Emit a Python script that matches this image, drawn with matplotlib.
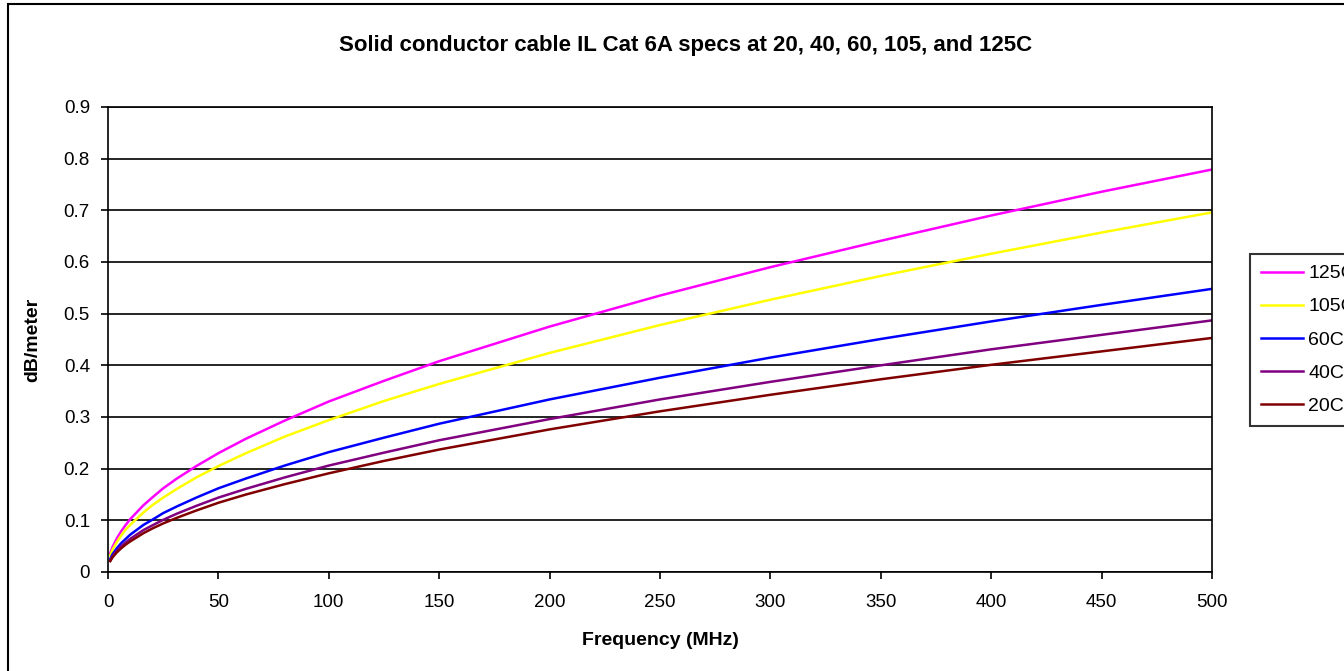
import matplotlib
matplotlib.use("Agg")
import matplotlib.pyplot as plt
from matplotlib.patches import Rectangle

plt.rcParams["font.family"] = ["Liberation Sans", "DejaVu Sans"]

# Frequency points (MHz) and insertion loss (dB/meter)
freq_mhz = [1, 2, 4, 6, 8, 10, 16, 20, 25, 31.25, 40, 50, 62.5, 80,
            100, 125, 150, 200, 250, 300, 350, 400, 450, 500]

il_125c = [0.036, 0.048, 0.065, 0.079, 0.091, 0.102, 0.129, 0.144, 0.162, 0.181,
           0.205, 0.230, 0.258, 0.293, 0.330, 0.370, 0.408, 0.475, 0.535, 0.590,
           0.641, 0.690, 0.736, 0.779]
il_105c = [0.032, 0.043, 0.058, 0.071, 0.082, 0.091, 0.115, 0.129, 0.144, 0.161,
           0.183, 0.205, 0.230, 0.262, 0.294, 0.331, 0.364, 0.424, 0.478, 0.527,
           0.573, 0.616, 0.657, 0.696]
il_60c = [0.025, 0.034, 0.046, 0.056, 0.064, 0.072, 0.091, 0.101, 0.114, 0.127,
          0.144, 0.162, 0.181, 0.206, 0.232, 0.260, 0.287, 0.334, 0.376, 0.415,
          0.451, 0.485, 0.517, 0.548]
il_40c = [0.022, 0.030, 0.041, 0.050, 0.057, 0.064, 0.081, 0.090, 0.101, 0.113,
          0.128, 0.144, 0.161, 0.183, 0.206, 0.231, 0.255, 0.296, 0.334, 0.368,
          0.400, 0.431, 0.459, 0.487]
il_20c = [0.021, 0.028, 0.038, 0.046, 0.053, 0.059, 0.075, 0.084, 0.094, 0.105,
          0.119, 0.134, 0.150, 0.170, 0.191, 0.215, 0.237, 0.276, 0.311, 0.343,
          0.373, 0.401, 0.427, 0.453]

series_labels = ["125C", "105C", "60C", "40C", "20C"]
series_colors = ["#FF00FF", "#FFFF00", "#0000FF", "#800080", "#800000"]

W, H = 1344, 671
fig = plt.figure(figsize=(W / 100, H / 100), dpi=100)

# Chart-area border (left and top edges visible; rest is cropped)
fig.patches.append(Rectangle((8 / W, -0.05), 1.1, 1 - 4 / H + 0.05,
                             transform=fig.transFigure, fill=False,
                             edgecolor="black", linewidth=1.5))

ax = fig.add_axes([108 / W, 1 - 572 / H, (1212 - 108) / W, (572 - 107) / H])

for ys, lab, col in zip([il_125c, il_105c, il_60c, il_40c, il_20c],
                        series_labels, series_colors):
    ax.plot(freq_mhz, ys, color=col, linewidth=1.8, label=lab)

ax.set_xlim(0, 500)
ax.set_ylim(0, 0.9)
ax.set_xticks(range(0, 501, 50))
ax.set_yticks([i / 10 for i in range(10)])
ax.set_yticklabels(["0"] + [f"{i / 10:.1f}" for i in range(1, 10)])
ax.yaxis.grid(True, color="black", linewidth=1.2)
ax.set_axisbelow(True)
for s in ax.spines.values():
    s.set_linewidth(1.2)
ax.tick_params(direction="out", length=5, width=1.2, labelsize=13.5)
ax.tick_params(axis="x", pad=11)
ax.tick_params(axis="y", pad=8)

ax.set_xlabel("Frequency (MHz)", fontsize=14, fontweight="bold", labelpad=15)
ax.set_ylabel("dB/meter", fontsize=14, fontweight="bold", labelpad=16)

fig.text(686 / W, 1 - 45 / H, "Solid conductor cable IL Cat 6A specs at 20, 40, 60, 105, and 125C",
         ha="center", va="center", fontsize=16, fontweight="bold")

leg = fig.legend(loc="upper left", bbox_to_anchor=(1250 / W, 1 - 254 / H),
                 frameon=True, fancybox=False, fontsize=14, handlelength=2.15,
                 handletextpad=0.3, labelspacing=0.8, borderpad=0.55,
                 borderaxespad=0)
leg.get_frame().set_edgecolor("black")
leg.get_frame().set_linewidth(1.5)

fig.savefig("out.png", dpi=100)
